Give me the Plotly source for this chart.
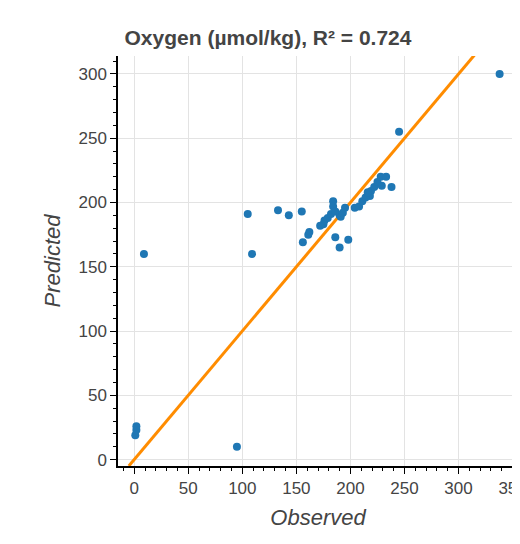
import plotly.graph_objects as go

observed = [9, 105, 109, 133, 143, 155, 162, 161, 156, 186, 190, 198, 184, 184,
            176, 175, 179, 190, 195, 191, 204, 208, 211, 218, 219, 222, 225, 228,
            233, 229, 238, 245, 338, 2, 1, 2, 95, 172, 182, 186, 193, 214, 216]
predicted = [160, 191, 160, 194, 190, 193, 177, 175, 169, 173, 165, 171, 201, 197,
             186, 183, 188, 190, 196, 189, 196, 197, 201, 205, 209, 212, 216, 220,
             220, 213, 212, 255, 300, 23, 19, 26, 10, 182, 191, 193, 192, 204, 208]
line_x = [-5, 320]

fig = go.Figure()
fig.add_trace(go.Scatter(x=line_x, y=line_x, mode="lines",
                         line=dict(color="#ff8c00", width=3), hoverinfo="skip"))
fig.add_trace(go.Scatter(x=observed, y=predicted, mode="markers",
                         marker=dict(color="#1f77b4", size=8)))

axis = dict(showline=True, linecolor="black", linewidth=1.5, ticks="outside",
            tickcolor="black", ticklen=6, gridcolor="#e3e3e3", gridwidth=1.3,
            zeroline=False, tickfont=dict(size=17, color="#444"), mirror=False,
            minor=dict(ticks="outside", ticklen=3, tickcolor="black", dtick=10, showgrid=False))

fig.update_layout(
    width=520, height=544, showlegend=False,
    plot_bgcolor="white", paper_bgcolor="white",
    font=dict(family="Helvetica, Arial, sans-serif", color="#444"),
    title=dict(text="<b>Oxygen (µmol/kg), R² = 0.724</b>", x=0.5, xanchor="center",
               y=0.945, yanchor="middle", font=dict(size=21, color="#444")),
    margin=dict(l=110, r=10, t=48, b=86, autoexpand=False),
    xaxis=dict(axis, range=[-15, 355], dtick=50,
               title=dict(text="<i>Observed</i>", font=dict(size=22, color="#444"),
                          standoff=12)),
    yaxis=dict(axis, range=[-5, 314], dtick=50,
               title=dict(text="<i>Predicted</i>", font=dict(size=22, color="#444"),
                          standoff=12)),
)
fig.write_html("out.html")
